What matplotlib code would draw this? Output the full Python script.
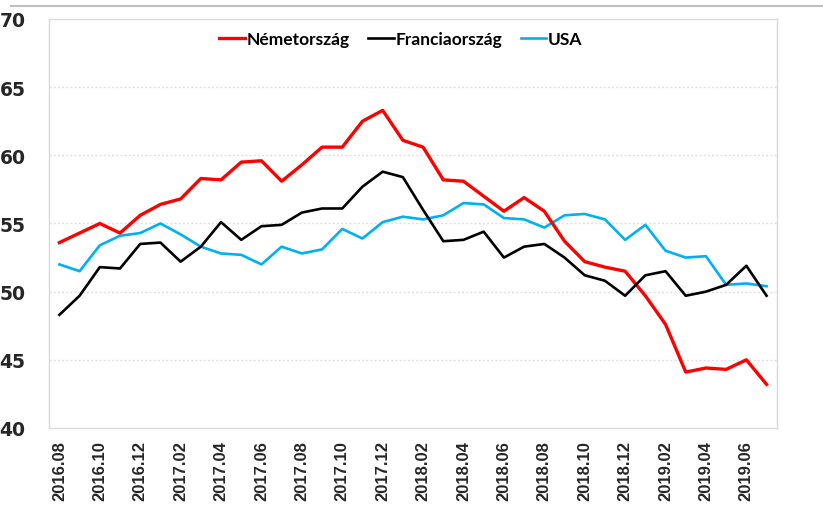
import matplotlib
matplotlib.use("Agg")
import matplotlib.pyplot as plt
from matplotlib.lines import Line2D

months = [f"{y}.{m:02d}" for y, m in
          [(2016, m) for m in range(8, 13)] +
          [(2017, m) for m in range(1, 13)] +
          [(2018, m) for m in range(1, 13)] +
          [(2019, m) for m in range(1, 8)]]

germany = [53.6, 54.3, 55.0, 54.3, 55.6, 56.4, 56.8, 58.3, 58.2, 59.5, 59.6, 58.1,
           59.3, 60.6, 60.6, 62.5, 63.3, 61.1, 60.6, 58.2, 58.1, 57.0, 55.9, 56.9,
           55.9, 53.7, 52.2, 51.8, 51.5, 49.7, 47.6, 44.1, 44.4, 44.3, 45.0, 43.2]
france = [48.3, 49.7, 51.8, 51.7, 53.5, 53.6, 52.2, 53.3, 55.1, 53.8, 54.8, 54.9,
          55.8, 56.1, 56.1, 57.7, 58.8, 58.4, 56.0, 53.7, 53.8, 54.4, 52.5, 53.3,
          53.5, 52.5, 51.2, 50.8, 49.7, 51.2, 51.5, 49.7, 50.0, 50.5, 51.9, 49.7]
usa = [52.0, 51.5, 53.4, 54.1, 54.3, 55.0, 54.2, 53.3, 52.8, 52.7, 52.0, 53.3,
       52.8, 53.1, 54.6, 53.9, 55.1, 55.5, 55.3, 55.6, 56.5, 56.4, 55.4, 55.3,
       54.7, 55.6, 55.7, 55.3, 53.8, 54.9, 53.0, 52.5, 52.6, 50.5, 50.6, 50.4]

series_names = ["Németország", "Franciaország", "USA"]
y_ticks = [40, 45, 50, 55, 60, 65, 70]

fig = plt.figure(figsize=(8.23, 5.06), dpi=100)
ax = fig.add_axes([0.0599, 0.1522, 0.8838, 0.8083])

x = list(range(len(months)))
ax.plot(x, germany, color="#ff0000", lw=2.4, label=series_names[0], zorder=3)
ax.plot(x, france, color="#000000", lw=1.9, label=series_names[1], zorder=4)
ax.plot(x, usa, color="#00b0f0", lw=1.9, label=series_names[2], zorder=2)

ax.set_xlim(-0.5, len(months) - 0.5)
ax.set_ylim(40, 70)
ax.set_yticks(y_ticks)
ax.set_yticklabels([str(v) for v in y_ticks],
                   family=["Liberation Sans Narrow", "DejaVu Sans"],
                   fontweight="bold", fontsize=13.5, color="#262626")
ax.set_xticks(x[::2])
ax.set_xticklabels(months[::2], rotation=90, fontweight="bold",
                   family=["Liberation Sans", "DejaVu Sans"], fontsize=12,
                   color="#262626")
ax.tick_params(axis="y", length=0, pad=17)
ax.tick_params(axis="x", length=0, pad=9)

for v in y_ticks[1:-1]:
    ax.axhline(v, color="#e0e0e0", lw=1.0, ls=(0, (1.5, 1.5)), zorder=1)
for s in ax.spines.values():
    s.set_color("#d9d9d9")
    s.set_linewidth(1.0)

leg = ax.legend(loc="center", bbox_to_anchor=(0.4835, 0.951), ncol=3,
                frameon=False, handlelength=1.45, handletextpad=0.1,
                columnspacing=1.1,
                prop={"family": ["Lato", "DejaVu Sans"], "weight": "bold", "size": 12.5})

fig.add_artist(Line2D([11 / 823, 1.0], [1 - 6.7 / 506, 1 - 6.7 / 506],
                      transform=fig.transFigure, color="#bfbfbf", lw=1.5))

fig.savefig("out.png", dpi=100)
